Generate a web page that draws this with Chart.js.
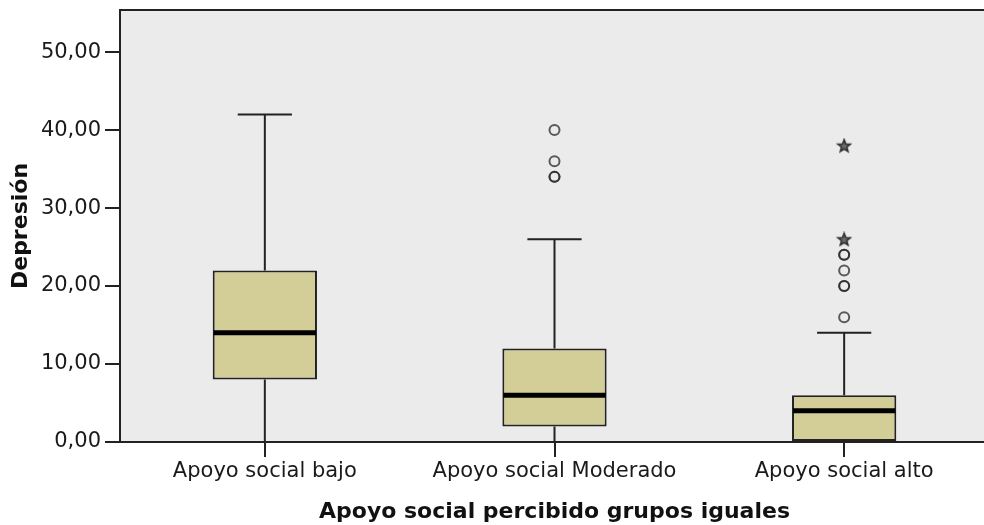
<!DOCTYPE html>
<html>
<head>
<meta charset="utf-8">
<script src="https://cdn.jsdelivr.net/npm/chart.js@4/dist/chart.umd.min.js"></script>
<style>
  html, body { margin: 0; padding: 0; overflow: hidden; background: #ffffff; }
  #wrap { width: 996px; height: 525px; }
</style>
</head>
<body>
<div id="wrap"><canvas id="c" width="996" height="525"></canvas></div>
<script>
// Groups of perceived peer social support
const categories = ['Apoyo social bajo', 'Apoyo social Moderado', 'Apoyo social alto'];

// Five-number summaries of the depression score per group
const whiskerLow  = [0, 0, 0];
const quartile1   = [8, 2, 0];
const medians     = [14, 6, 4];
const quartile3   = [22, 12, 6];
const whiskerHigh = [42, 26, 14];

// Outlying cases (repeated values are overlapping cases)
const outliersModerado = [34, 34, 36, 40];
const outliersAlto     = [16, 20, 20, 22, 24, 24];
const extremesAlto     = [26, 38];

const yTicks = [0, 10, 20, 30, 40, 50];
const yMax = 55.4;

const LINE = '#222222';
const FONT = 'DejaVu Sans, Verdana, sans-serif';
const fmt = v => v.toFixed(2).replace('.', ',');

// Small five-pointed star marker for extreme cases
function makeStar() {
  const c = document.createElement('canvas');
  c.width = 16; c.height = 16;
  const g = c.getContext('2d');
  const cx = 8, cy = 8.5, ro = 6.5, ri = 2.8;
  g.beginPath();
  for (let k = 0; k < 10; k++) {
    const r = k % 2 === 0 ? ro : ri;
    const ang = -Math.PI / 2 + k * Math.PI / 5;
    const px = cx + r * Math.cos(ang), py = cy + r * Math.sin(ang);
    if (k === 0) g.moveTo(px, py); else g.lineTo(px, py);
  }
  g.closePath();
  g.fillStyle = '#6a6a6a';
  g.fill();
  g.lineWidth = 1.6;
  g.strokeStyle = '#303030';
  g.stroke();
  return c;
}

// Plot background, frame, whiskers and medians drawn through the chart scales
const boxPlotPlugin = {
  id: 'boxPlotPlugin',
  beforeDatasetsDraw(chart) {
    const {ctx, chartArea: a, scales: {x, y}} = chart;
    ctx.save();
    ctx.fillStyle = '#ebebeb';
    ctx.fillRect(a.left, a.top, a.right - a.left, a.bottom - a.top);
    const meta = chart.getDatasetMeta(0);
    ctx.strokeStyle = LINE;
    ctx.lineWidth = 2;
    categories.forEach((c, i) => {
      const cx = x.getPixelForValue(i);
      const bw = meta.data[i].width;
      const cap = bw * 0.26;
      const yHi = y.getPixelForValue(whiskerHigh[i]);
      const yQ3 = y.getPixelForValue(quartile3[i]);
      const yQ1 = y.getPixelForValue(quartile1[i]);
      const yLo = y.getPixelForValue(whiskerLow[i]);
      ctx.beginPath();
      ctx.moveTo(cx, yQ3); ctx.lineTo(cx, yHi);
      ctx.moveTo(cx - cap, yHi); ctx.lineTo(cx + cap, yHi);
      if (whiskerLow[i] < quartile1[i]) {
        ctx.moveTo(cx, yQ1); ctx.lineTo(cx, yLo);
        ctx.moveTo(cx - cap, yLo); ctx.lineTo(cx + cap, yLo);
      }
      ctx.stroke();
    });
    ctx.restore();
  },
  afterDatasetDraw(chart, args) {
    if (args.index !== 0) return;
    const {ctx, scales: {x, y}} = chart;
    const meta = chart.getDatasetMeta(0);
    ctx.save();
    ctx.strokeStyle = '#000000';
    ctx.lineWidth = 5;
    categories.forEach((c, i) => {
      const cx = x.getPixelForValue(i);
      const half = meta.data[i].width / 2;
      const ym = y.getPixelForValue(medians[i]);
      ctx.beginPath();
      ctx.moveTo(cx - half + 1, ym); ctx.lineTo(cx + half - 1, ym);
      ctx.stroke();
    });
    ctx.restore();
  },
  afterDraw(chart) {
    const {ctx, chartArea: a} = chart;
    ctx.save();
    ctx.strokeStyle = LINE;
    ctx.lineWidth = 2;
    ctx.strokeRect(a.left, a.top, a.right - a.left, a.bottom - a.top);
    ctx.restore();
  }
};

const toPoints = (label, vals) => vals.map(v => ({x: label, y: v}));

new Chart(document.getElementById('c'), {
  type: 'bar',
  data: {
    labels: categories,
    datasets: [
      {
        label: 'Caja',
        data: quartile1.map((q, i) => [q, quartile3[i]]),
        backgroundColor: '#d3ce98',
        borderColor: LINE,
        borderWidth: 2,
        borderSkipped: false,
        barPercentage: 0.36,
        categoryPercentage: 1
      },
      {
        type: 'scatter',
        label: 'Atípicos',
        data: toPoints(categories[1], outliersModerado).concat(toPoints(categories[2], outliersAlto)),
        pointStyle: 'circle',
        pointRadius: 5,
        borderWidth: 2,
        borderColor: 'rgba(40,40,40,0.75)',
        backgroundColor: 'rgba(0,0,0,0)'
      },
      {
        type: 'scatter',
        label: 'Extremos',
        data: toPoints(categories[2], extremesAlto),
        pointStyle: makeStar(),
        pointRadius: 6
      }
    ]
  },
  options: {
    responsive: false,
    animation: false,
    layout: { padding: { top: 10, right: 0, left: 0, bottom: 0 } },
    plugins: { legend: { display: false }, tooltip: { enabled: false } },
    scales: {
      x: {
        type: 'category',
        offset: true,
        afterFit: s => { s.height = 83; s.paddingLeft = 0; s.paddingRight = 0; },
        grid: { offset: false, drawOnChartArea: false, drawTicks: true, tickLength: 15, tickColor: LINE, lineWidth: 2 },
        border: { display: true, color: LINE, width: 2 },
        ticks: { color: '#1a1a1a', font: { family: FONT, size: 21 }, padding: 2, maxRotation: 0 },
        title: { display: true, text: 'Apoyo social percibido grupos iguales', color: '#111',
                 font: { family: FONT, size: 22, weight: 'bold' }, padding: { top: 0, bottom: 0 } }
      },
      y: {
        min: 0,
        max: yMax,
        afterFit: s => { s.width = 120; s.paddingTop = 0; s.paddingBottom = 0; },
        afterBuildTicks: s => { s.ticks = yTicks.map(v => ({value: v})); },
        grid: { drawOnChartArea: false, drawTicks: true, tickLength: 15, tickColor: LINE, lineWidth: 2 },
        border: { display: true, color: LINE, width: 2 },
        ticks: { color: '#1a1a1a', font: { family: FONT, size: 21 }, padding: 4, callback: v => fmt(v) },
        title: { display: true, text: 'Depresión', color: '#111',
                 font: { family: FONT, size: 22, weight: 'bold' }, padding: { top: 8, bottom: 0 } }
      }
    }
  },
  plugins: [boxPlotPlugin]
});
</script>
</body>
</html>
